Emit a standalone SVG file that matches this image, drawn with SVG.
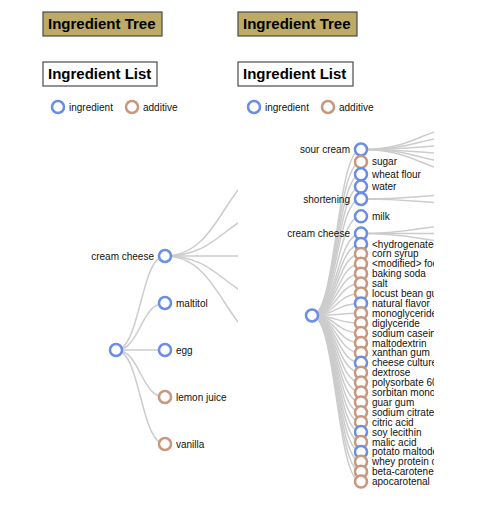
<svg xmlns="http://www.w3.org/2000/svg" width="498" height="512" viewBox="0 0 498 512">
<style>
.hdr{stroke:#4a4a4a;stroke-width:1.2}
.tree{fill:#bcaa66}
.list{fill:#fff}
.htxt{font-family:"Liberation Sans",Arial,sans-serif;font-weight:bold;font-size:15px;fill:#000}
.lbl{font-family:"Liberation Sans",Arial,sans-serif;font-size:10px;fill:#111}
.link{fill:none;stroke:#ccc;stroke-width:1.5}
.ing{fill:#fff;stroke:#6a8de6;stroke-width:2.5}
.add{fill:#fff;stroke:#c8977d;stroke-width:2.5}
.r{text-anchor:start}
.l{text-anchor:end}
</style>
<defs>
<clipPath id="clipL"><rect x="0" y="0" width="238" height="512"/></clipPath>
<clipPath id="clipR"><rect x="238" y="0" width="196" height="512"/></clipPath>
</defs>
<rect width="498" height="512" fill="#fff"/>

<g id="header-left">
<rect class="hdr tree" x="43" y="12" width="119" height="24"/>
<text class="htxt" x="48" y="29">Ingredient Tree</text>
<rect class="hdr list" x="43" y="62" width="114" height="24"/>
<text class="htxt" x="48" y="79">Ingredient List</text>
</g>
<g id="header-right">
<rect class="hdr tree" x="238" y="12" width="119" height="24"/>
<text class="htxt" x="243" y="29">Ingredient Tree</text>
<rect class="hdr list" x="238" y="62" width="115" height="24"/>
<text class="htxt" x="243" y="79">Ingredient List</text>
</g>

<g id="legend-left">
<circle class="ing" cx="58" cy="107" r="6"/>
<text class="lbl" x="69" y="110.5">ingredient</text>
<circle class="add" cx="132" cy="107" r="6"/>
<text class="lbl" x="143" y="110.5">additive</text>
</g>
<g id="legend-right">
<circle class="ing" cx="254" cy="107" r="6"/>
<text class="lbl" x="265" y="110.5">ingredient</text>
<circle class="add" cx="328" cy="107" r="6"/>
<text class="lbl" x="339" y="110.5">additive</text>
</g>

<!-- LEFT TREE -->
<g id="tree-left" clip-path="url(#clipL)">
<g id="connectors-left">
<path class="link" d="M116,350C140.5,350 140.5,256 165,256"/>
<path class="link" d="M116,350C140.5,350 140.5,303 165,303"/>
<path class="link" d="M116,350C140.5,350 140.5,350 165,350"/>
<path class="link" d="M116,350C140.5,350 140.5,397 165,397"/>
<path class="link" d="M116,350C140.5,350 140.5,444 165,444"/>
<path class="link" d="M165,256C225,256 225,162 285,162"/>
<path class="link" d="M165,256C225,256 225,209 285,209"/>
<path class="link" d="M165,256C225,256 225,256 285,256"/>
<path class="link" d="M165,256C225,256 225,303 285,303"/>
<path class="link" d="M165,256C225,256 225,350 285,350"/>
</g>
<g id="L-root"><circle class="ing" cx="116" cy="350" r="6"/></g>
<g id="L-cream-cheese"><circle class="ing" cx="165" cy="256" r="6"/><text class="lbl l" x="154" y="259.5">cream cheese</text></g>
<g id="L-maltitol"><circle class="ing" cx="165" cy="303" r="6"/><text class="lbl r" x="176" y="306.5">maltitol</text></g>
<g id="L-egg"><circle class="ing" cx="165" cy="350" r="6"/><text class="lbl r" x="176" y="353.5">egg</text></g>
<g id="L-lemon-juice"><circle class="add" cx="165" cy="397" r="6"/><text class="lbl r" x="176" y="400.5">lemon juice</text></g>
<g id="L-vanilla"><circle class="add" cx="165" cy="444" r="6"/><text class="lbl r" x="176" y="447.5">vanilla</text></g>
</g>

<!-- RIGHT TREE -->
<g id="tree-right" clip-path="url(#clipR)">
<g id="connectors-right">
<path class="link" d="M312,315.5C336.5,315.5 336.5,149.5 361,149.5"/>
<path class="link" d="M312,315.5C336.5,315.5 336.5,161.9 361,161.9"/>
<path class="link" d="M312,315.5C336.5,315.5 336.5,174.3 361,174.3"/>
<path class="link" d="M312,315.5C336.5,315.5 336.5,186.6 361,186.6"/>
<path class="link" d="M312,315.5C336.5,315.5 336.5,199 361,199"/>
<path class="link" d="M312,315.5C336.5,315.5 336.5,216.3 361,216.3"/>
<path class="link" d="M312,315.5C336.5,315.5 336.5,233.6 361,233.6"/>
<path class="link" d="M312,315.5C336.5,315.5 336.5,244 361,244"/>
<path class="link" d="M312,315.5C336.5,315.5 336.5,253.9 361,253.9"/>
<path class="link" d="M312,315.5C336.5,315.5 336.5,263.8 361,263.8"/>
<path class="link" d="M312,315.5C336.5,315.5 336.5,273.7 361,273.7"/>
<path class="link" d="M312,315.5C336.5,315.5 336.5,283.6 361,283.6"/>
<path class="link" d="M312,315.5C336.5,315.5 336.5,293.5 361,293.5"/>
<path class="link" d="M312,315.5C336.5,315.5 336.5,303.4 361,303.4"/>
<path class="link" d="M312,315.5C336.5,315.5 336.5,313.3 361,313.3"/>
<path class="link" d="M312,315.5C336.5,315.5 336.5,323.2 361,323.2"/>
<path class="link" d="M312,315.5C336.5,315.5 336.5,333.1 361,333.1"/>
<path class="link" d="M312,315.5C336.5,315.5 336.5,343 361,343"/>
<path class="link" d="M312,315.5C336.5,315.5 336.5,352.9 361,352.9"/>
<path class="link" d="M312,315.5C336.5,315.5 336.5,362.8 361,362.8"/>
<path class="link" d="M312,315.5C336.5,315.5 336.5,372.7 361,372.7"/>
<path class="link" d="M312,315.5C336.5,315.5 336.5,382.6 361,382.6"/>
<path class="link" d="M312,315.5C336.5,315.5 336.5,392.5 361,392.5"/>
<path class="link" d="M312,315.5C336.5,315.5 336.5,402.4 361,402.4"/>
<path class="link" d="M312,315.5C336.5,315.5 336.5,412.3 361,412.3"/>
<path class="link" d="M312,315.5C336.5,315.5 336.5,422.2 361,422.2"/>
<path class="link" d="M312,315.5C336.5,315.5 336.5,432.1 361,432.1"/>
<path class="link" d="M312,315.5C336.5,315.5 336.5,442 361,442"/>
<path class="link" d="M312,315.5C336.5,315.5 336.5,451.9 361,451.9"/>
<path class="link" d="M312,315.5C336.5,315.5 336.5,461.8 361,461.8"/>
<path class="link" d="M312,315.5C336.5,315.5 336.5,471.7 361,471.7"/>
<path class="link" d="M312,315.5C336.5,315.5 336.5,481.6 361,481.6"/>
<path class="link" d="M361,149.5C421,149.5 421,124.5 481,124.5"/>
<path class="link" d="M361,149.5C421,149.5 421,134.5 481,134.5"/>
<path class="link" d="M361,149.5C421,149.5 421,144.5 481,144.5"/>
<path class="link" d="M361,149.5C421,149.5 421,154.5 481,154.5"/>
<path class="link" d="M361,149.5C421,149.5 421,164.5 481,164.5"/>
<path class="link" d="M361,149.5C421,149.5 421,174.5 481,174.5"/>
<path class="link" d="M361,199C421,199 421,194 481,194"/>
<path class="link" d="M361,199C421,199 421,204 481,204"/>
<path class="link" d="M361,233.6C421,233.6 421,223.6 481,223.6"/>
<path class="link" d="M361,233.6C421,233.6 421,233.6 481,233.6"/>
<path class="link" d="M361,233.6C421,233.6 421,243.6 481,243.6"/>
</g>
<g id="R-root"><circle class="ing" cx="312" cy="315.5" r="6"/></g>
<g id="R-sour-cream"><circle class="ing" cx="361" cy="149.5" r="6"/><text class="lbl l" x="350" y="153">sour cream</text></g>
<g id="R-sugar"><circle class="add" cx="361" cy="161.9" r="6"/><text class="lbl r" x="372" y="165.4">sugar</text></g>
<g id="R-wheat-flour"><circle class="ing" cx="361" cy="174.3" r="6"/><text class="lbl r" x="372" y="177.8">wheat flour</text></g>
<g id="R-water"><circle class="ing" cx="361" cy="186.6" r="6"/><text class="lbl r" x="372" y="190.1">water</text></g>
<g id="R-shortening"><circle class="ing" cx="361" cy="199" r="6"/><text class="lbl l" x="350" y="202.5">shortening</text></g>
<g id="R-milk"><circle class="ing" cx="361" cy="216.3" r="6"/><text class="lbl r" x="372" y="219.8">milk</text></g>
<g id="R-cream-cheese"><circle class="ing" cx="361" cy="233.6" r="6"/><text class="lbl l" x="350" y="237.1">cream cheese</text></g>
<g id="R-hydrogenated"><circle class="ing" cx="361" cy="244" r="6"/><text class="lbl r" x="372" y="247.5">&lt;hydrogenated&gt; oil</text></g>
<g id="R-corn-syrup"><circle class="add" cx="361" cy="253.9" r="6"/><text class="lbl r" x="372" y="257.4">corn syrup</text></g>
<g id="R-modified"><circle class="add" cx="361" cy="263.8" r="6"/><text class="lbl r" x="372" y="267.3">&lt;modified&gt; food starch</text></g>
<g id="R-baking-soda"><circle class="add" cx="361" cy="273.7" r="6"/><text class="lbl r" x="372" y="277.2">baking soda</text></g>
<g id="R-salt"><circle class="add" cx="361" cy="283.6" r="6"/><text class="lbl r" x="372" y="287.1">salt</text></g>
<g id="R-locust-bean-gum"><circle class="add" cx="361" cy="293.5" r="6"/><text class="lbl r" x="372" y="297">locust bean gum</text></g>
<g id="R-natural-flavor"><circle class="ing" cx="361" cy="303.4" r="6"/><text class="lbl r" x="372" y="306.9">natural flavor</text></g>
<g id="R-monoglyceride"><circle class="add" cx="361" cy="313.3" r="6"/><text class="lbl r" x="372" y="316.8">monoglyceride</text></g>
<g id="R-diglyceride"><circle class="add" cx="361" cy="323.2" r="6"/><text class="lbl r" x="372" y="326.7">diglyceride</text></g>
<g id="R-sodium-caseinate"><circle class="add" cx="361" cy="333.1" r="6"/><text class="lbl r" x="372" y="336.6">sodium caseinate</text></g>
<g id="R-maltodextrin"><circle class="add" cx="361" cy="343" r="6"/><text class="lbl r" x="372" y="346.5">maltodextrin</text></g>
<g id="R-xanthan-gum"><circle class="add" cx="361" cy="352.9" r="6"/><text class="lbl r" x="372" y="356.4">xanthan gum</text></g>
<g id="R-cheese-culture"><circle class="ing" cx="361" cy="362.8" r="6"/><text class="lbl r" x="372" y="366.3">cheese culture</text></g>
<g id="R-dextrose"><circle class="add" cx="361" cy="372.7" r="6"/><text class="lbl r" x="372" y="376.2">dextrose</text></g>
<g id="R-polysorbate"><circle class="add" cx="361" cy="382.6" r="6"/><text class="lbl r" x="372" y="386.1">polysorbate 60</text></g>
<g id="R-sorbitan"><circle class="add" cx="361" cy="392.5" r="6"/><text class="lbl r" x="372" y="396">sorbitan monostearate</text></g>
<g id="R-guar-gum"><circle class="add" cx="361" cy="402.4" r="6"/><text class="lbl r" x="372" y="405.9">guar gum</text></g>
<g id="R-sodium-citrate"><circle class="add" cx="361" cy="412.3" r="6"/><text class="lbl r" x="372" y="415.8">sodium citrate</text></g>
<g id="R-citric-acid"><circle class="add" cx="361" cy="422.2" r="6"/><text class="lbl r" x="372" y="425.7">citric acid</text></g>
<g id="R-soy-lecithin"><circle class="ing" cx="361" cy="432.1" r="6"/><text class="lbl r" x="372" y="435.6">soy lecithin</text></g>
<g id="R-malic-acid"><circle class="add" cx="361" cy="442" r="6"/><text class="lbl r" x="372" y="445.5">malic acid</text></g>
<g id="R-potato-maltodextrin"><circle class="ing" cx="361" cy="451.9" r="6"/><text class="lbl r" x="372" y="455.4">potato maltodextrin</text></g>
<g id="R-whey-protein"><circle class="add" cx="361" cy="461.8" r="6"/><text class="lbl r" x="372" y="465.3">whey protein concentrate</text></g>
<g id="R-beta-carotene"><circle class="add" cx="361" cy="471.7" r="6"/><text class="lbl r" x="372" y="475.2">beta-carotene</text></g>
<g id="R-apocarotenal"><circle class="add" cx="361" cy="481.6" r="6"/><text class="lbl r" x="372" y="485.1">apocarotenal</text></g>
</g>
</svg>
